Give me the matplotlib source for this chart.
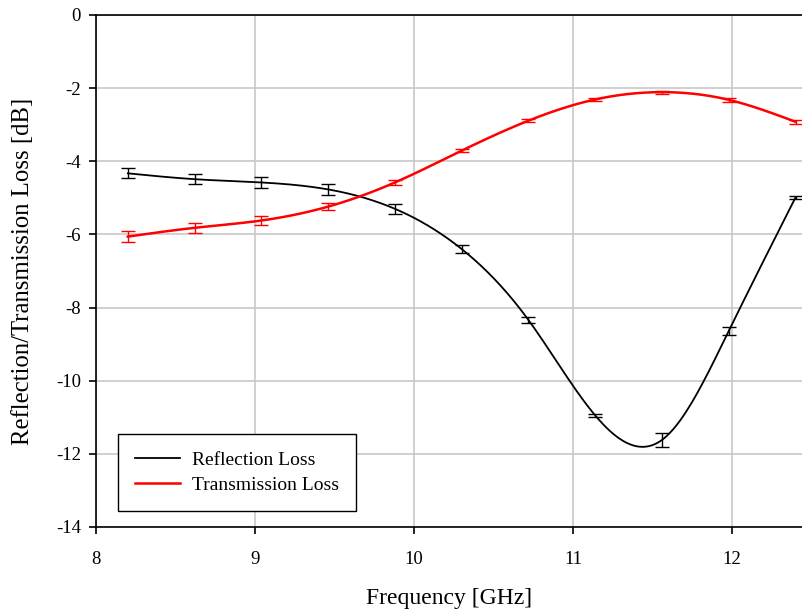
import numpy as np
import matplotlib.pyplot as plt

plt.rcParams['font.family'] = ['Liberation Serif', 'DejaVu Serif']
plt.rcParams['axes.unicode_minus'] = False

# frequency points (GHz)
freq = [8.20, 8.62, 9.04, 9.46, 9.88, 10.30, 10.72, 11.14, 11.56, 11.98, 12.40]

# reflection loss [dB] and error
refl = [-4.33, -4.49, -4.58, -4.77, -5.30, -6.40, -8.34, -10.95, -11.62, -8.64, -4.99]
refl_err = [0.14, 0.14, 0.14, 0.14, 0.14, 0.11, 0.08, 0.05, 0.18, 0.12, 0.03]

# transmission loss [dB] and error
trans = [-6.06, -5.82, -5.62, -5.24, -4.58, -3.71, -2.89, -2.31, -2.11, -2.32, -2.92]
trans_err = [0.15, 0.14, 0.12, 0.09, 0.07, 0.04, 0.04, 0.04, 0.04, 0.05, 0.06]


def spline(x, y, n=400):
    # natural cubic spline through the points
    x = np.asarray(x, float)
    y = np.asarray(y, float)
    m = len(x)
    h = np.diff(x)
    A = np.zeros((m, m))
    r = np.zeros(m)
    A[0, 0] = A[-1, -1] = 1
    for i in range(1, m - 1):
        A[i, i - 1] = h[i - 1]
        A[i, i] = 2 * (h[i - 1] + h[i])
        A[i, i + 1] = h[i]
        r[i] = 6 * ((y[i + 1] - y[i]) / h[i] - (y[i] - y[i - 1]) / h[i - 1])
    M = np.linalg.solve(A, r)
    xs = np.linspace(x[0], x[-1], n)
    j = np.clip(np.searchsorted(x, xs) - 1, 0, m - 2)
    a = x[j + 1] - xs
    b = xs - x[j]
    hj = h[j]
    ys = (M[j] * a ** 3 + M[j + 1] * b ** 3) / (6 * hj) \
        + (y[j] / hj - M[j] * hj / 6) * a + (y[j + 1] / hj - M[j + 1] * hj / 6) * b
    return xs, ys


fig = plt.figure(figsize=(8.03, 6.16), dpi=100)
ax = fig.add_axes([0.1196, 0.1445, 0.8804, 0.8312])

rx, ry = spline(freq, refl)
tx, ty = spline(freq, trans)
ax.plot(rx, ry, color='black', lw=1.3, label='Reflection Loss', zorder=3)
ax.plot(tx, ty, color='red', lw=1.8, label='Transmission Loss', zorder=3)
ax.errorbar(freq, refl, yerr=refl_err, fmt='none', ecolor='black',
            elinewidth=1, capsize=5, capthick=1, zorder=4)
ax.errorbar(freq, trans, yerr=trans_err, fmt='none', ecolor='red',
            elinewidth=1, capsize=5, capthick=1, zorder=4)

ax.set_xlim(8, 12.447)
ax.set_ylim(-14, 0)
ax.set_xticks([8, 9, 10, 11, 12])
ax.set_yticks(np.arange(-14, 1, 2))
ax.grid(True, color='#c8c8c8', lw=1.2)
ax.set_axisbelow(True)

ax.spines['right'].set_visible(False)
for s in ['left', 'bottom', 'top']:
    ax.spines[s].set_color('black')
    ax.spines[s].set_linewidth(1.2)
ax.tick_params(direction='out', length=5, width=1.2, labelsize=13.5, pad=6)
ax.tick_params(axis='x', pad=12)

ax.set_xlabel('Frequency [GHz]', fontsize=17, labelpad=15)
ax.set_ylabel('Reflection/Transmission Loss [dB]', fontsize=17.8, labelpad=16)

leg = ax.legend(loc='lower left', bbox_to_anchor=(0.031, 0.031), borderaxespad=0,
                fontsize=14, fancybox=False, edgecolor='black', framealpha=1,
                handlelength=2.3, handletextpad=0.6, borderpad=0.9, labelspacing=0.35)
leg.get_frame().set_linewidth(1)

fig.savefig('out.png', dpi=100)
